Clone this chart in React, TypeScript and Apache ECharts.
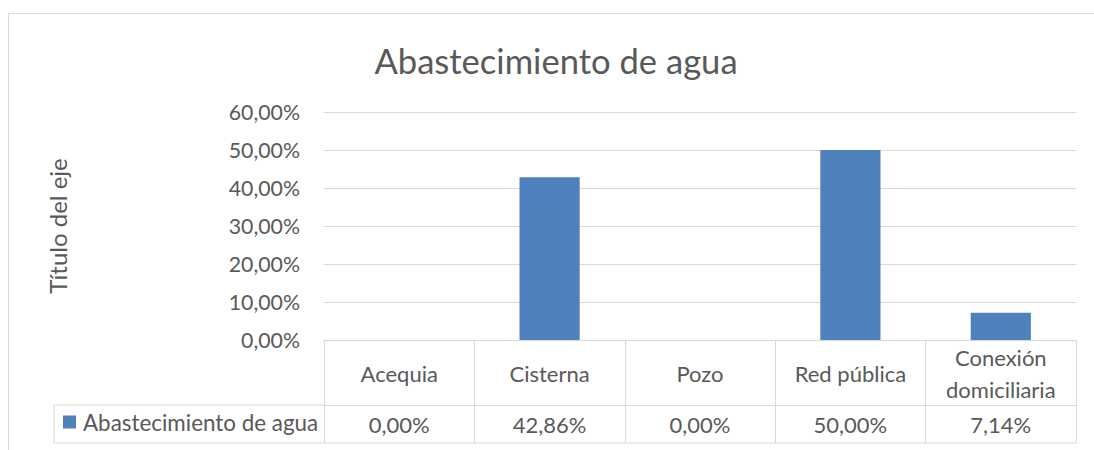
import React, { useEffect, useRef } from "react";
import * as echarts from "echarts";

const title = "Abastecimiento de agua";
const yAxisTitle = "Título del eje";
const seriesName = "Abastecimiento de agua";
const categories = ["Acequia", "Cisterna", "Pozo", "Red pública", "Conexión\ndomiciliaria"];
const values = [0, 0.4286, 0, 0.5, 0.0714];
const yTicks = { min: 0, max: 0.6, interval: 0.1 };

const fmt = (v: number) => (v * 100).toFixed(2).replace(".", ",") + "%";

const FONT = "Lato";
const TXT = "#595959";
const LINE = "#D9D9D9";
const BAR = "#4F81BD";

export default function App() {
  const ref = useRef<HTMLDivElement>(null);
  useEffect(() => {
    if (!ref.current) return;
    const chart = echarts.init(ref.current, null, { renderer: "svg" });
    const gridLeft = 324;
    const gridRight = 1076;
    const gridTop = 112;
    const gridBottom = 340;
    const rowSplit = 405;
    const tableBottom = 443;
    const legendLeft = 54;
    chart.setOption({
      animation: false,
      backgroundColor: "#ffffff",
      title: {
        text: title,
        left: 551,
        top: 38,
        textAlign: "center",
        textStyle: { fontFamily: FONT, fontSize: 34.6, fontWeight: "normal", color: TXT },
      },
      legend: {
        left: 63,
        top: 411,
        padding: 0,
        icon: "rect",
        itemWidth: 13,
        itemHeight: 13,
        itemGap: 10,
        textStyle: { fontFamily: FONT, fontSize: 22.4, color: TXT, padding: [0, 0, 0, 2] },
        data: [seriesName],
      },
      grid: {
        left: gridLeft,
        top: gridTop,
        width: gridRight - gridLeft,
        height: gridBottom - gridTop,
        containLabel: false,
      },
      xAxis: [
        {
          type: "category",
          data: categories,
          position: "bottom",
          axisLine: { show: true, lineStyle: { color: LINE, width: 1 } },
          axisTick: {
            show: true,
            alignWithLabel: false,
            length: tableBottom - gridBottom,
            lineStyle: { color: LINE, width: 1 },
          },
          axisLabel: {
            margin: 33,
            verticalAlign: "middle",
            fontFamily: FONT,
            fontSize: 22,
            lineHeight: 32,
            color: TXT,
            interval: 0,
          },
        },
        {
          type: "category",
          data: values.map(fmt),
          position: "bottom",
          offset: rowSplit - gridBottom,
          axisLine: { show: true, lineStyle: { color: LINE, width: 1 } },
          axisTick: { show: false },
          axisLabel: {
            margin: 19,
            verticalAlign: "middle",
            fontFamily: FONT,
            fontSize: 22,
            color: TXT,
            interval: 0,
          },
        },
      ],
      yAxis: {
        type: "value",
        min: yTicks.min,
        max: yTicks.max,
        interval: yTicks.interval,
        name: yAxisTitle,
        nameLocation: "middle",
        nameGap: 255,
        nameRotate: 90,
        nameTextStyle: { fontFamily: FONT, fontSize: 24, color: TXT },
        axisLine: { show: false },
        axisTick: { show: false },
        splitLine: { lineStyle: { color: LINE, width: 1 } },
        axisLabel: {
          margin: 24,
          formatter: (v: number) => fmt(v),
          fontFamily: FONT,
          fontSize: 21.3,
          color: TXT,
        },
      },
      series: [
        {
          name: seriesName,
          type: "bar",
          data: values,
          barWidth: "40%",
          itemStyle: { color: BAR },
        },
      ],
      graphic: [
        {
          type: "rect",
          shape: { x: 8.5, y: 13.5, width: 1200, height: 600 },
          style: { fill: "none", stroke: LINE, lineWidth: 1 },
          silent: true,
        },
        {
          type: "line",
          shape: { x1: legendLeft, y1: rowSplit, x2: gridLeft, y2: rowSplit },
          style: { stroke: LINE, lineWidth: 1 },
        },
        {
          type: "line",
          shape: { x1: legendLeft, y1: tableBottom, x2: gridRight, y2: tableBottom },
          style: { stroke: LINE, lineWidth: 1 },
        },
        {
          type: "line",
          shape: { x1: legendLeft, y1: rowSplit, x2: legendLeft, y2: tableBottom },
          style: { stroke: LINE, lineWidth: 1 },
        },
      ],
    });
    return () => chart.dispose();
  }, []);
  return (
    <div
      ref={ref}
      style={{ position: "fixed", left: 0, top: 0, width: 1094, height: 450 }}
    />
  );
}
